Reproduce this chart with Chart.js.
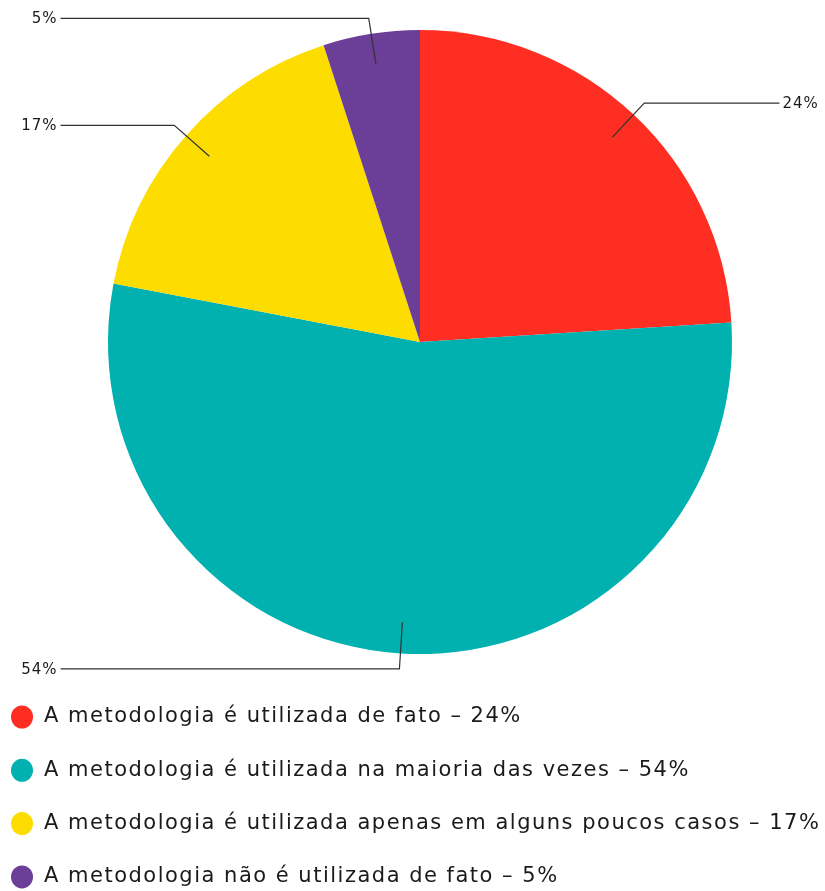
<!doctype html>
<html lang="pt">
<head>
<meta charset="utf-8">
<script src="https://cdn.jsdelivr.net/npm/chart.js"></script>
<title>Metodologia</title>
<style>
  html, body { margin: 0; padding: 0; background: #fff; }
  #box { width: 825px; height: 891px; }
</style>
</head>
<body>
<div id="box"><canvas id="myChart" width="825" height="891"></canvas></div>
<script>
// data
var labels = [
  'A metodologia é utilizada de fato',
  'A metodologia é utilizada na maioria das vezes',
  'A metodologia é utilizada apenas em alguns poucos casos',
  'A metodologia não é utilizada de fato'
];
var values = [24, 54, 17, 5];
var colors = ['#fe2e22', '#00b1b0', '#fddc00', '#6b3e97'];

// leader lines + percent labels
var calloutPlugin = {
  id: 'callouts',
  afterDatasetsDraw: function(chart) {
    var ctx = chart.ctx;
    var arcs = chart.getDatasetMeta(0).data;
    ctx.save();
    ctx.font = '15px "DejaVu Sans"';
    ctx.letterSpacing = '1px';
    ctx.textBaseline = 'middle';
    ctx.strokeStyle = '#333';
    ctx.fillStyle = '#1a1a1a';
    ctx.lineWidth = 1.2;
    arcs.forEach(function(arc, i) {
      var mid = (arc.startAngle + arc.endAngle) / 2;
      var cx = arc.x, cy = arc.y, r = arc.outerRadius;
      var x1 = cx + Math.cos(mid) * r * 0.9, y1 = cy + Math.sin(mid) * r * 0.9;
      var x2 = cx + Math.cos(mid) * r * 1.05, y2 = cy + Math.sin(mid) * r * 1.05;
      var right = Math.cos(mid) >= 0;
      var x3 = cx + (right ? 1 : -1) * r * 1.152;
      ctx.beginPath();
      ctx.moveTo(x1, y1);
      ctx.lineTo(x2, y2);
      ctx.lineTo(x3, y2);
      ctx.stroke();
      var txt = values[i] + '%';
      ctx.textAlign = right ? 'left' : 'right';
      ctx.fillText(txt, x3 + (right ? 3 : -3), y2 + 1);
    });
    ctx.restore();
  }
};

// legend drawn below the pie
var legendPlugin = {
  id: 'bottomLegend',
  afterDraw: function(chart) {
    var ctx = chart.ctx;
    ctx.save();
    ctx.font = '21px "DejaVu Sans"';
    ctx.letterSpacing = '1.5px';
    ctx.textBaseline = 'middle';
    ctx.textAlign = 'left';
    labels.forEach(function(lab, i) {
      var y = 717 + i * 53.3;
      ctx.beginPath();
      ctx.fillStyle = colors[i];
      ctx.ellipse(22, y, 11, 11.5, 0, 0, Math.PI * 2);
      ctx.fill();
      ctx.fillStyle = '#1a1a1a';
      ctx.fillText(lab + ' – ' + values[i] + '%', 44, y);
    });
    ctx.restore();
  }
};

new Chart(document.getElementById('myChart'), {
  type: 'pie',
  data: {
    labels: labels,
    datasets: [{
      data: values,
      backgroundColor: colors,
      borderWidth: 0
    }]
  },
  options: {
    responsive: false,
    animation: false,
    layout: { padding: { left: 108, right: 93, top: 30, bottom: 237 } },
    plugins: {
      legend: { display: false },
      tooltip: { enabled: false }
    }
  },
  plugins: [calloutPlugin, legendPlugin]
});
</script>
</body>
</html>
